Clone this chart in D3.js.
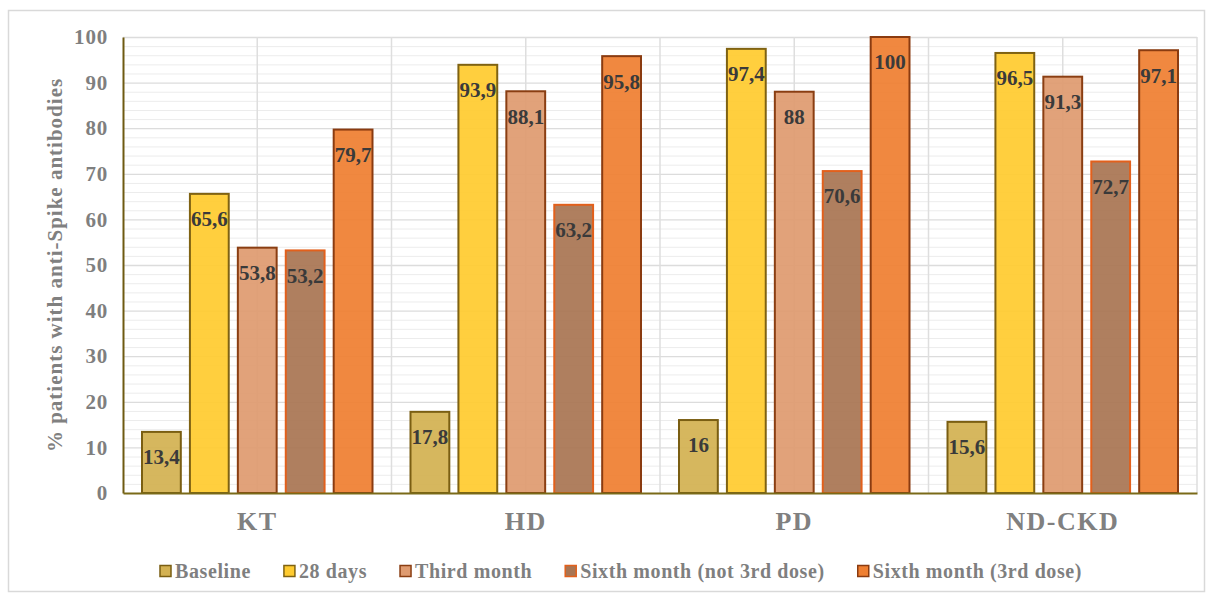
<!DOCTYPE html>
<html>
<head>
<meta charset="utf-8">
<script src="https://cdn.jsdelivr.net/npm/d3@7"></script>
<style>
  html, body { margin: 0; padding: 0; background: #fff; }
  svg { display: block; }
</style>
</head>
<body>
<svg id="chart" width="1210" height="597"></svg>
<script>
// Groups of patients and the share with anti-Spike antibodies at each time point
const categories = ["KT", "HD", "PD", "ND-CKD"];
const seriesNames = ["Baseline", "28 days", "Third month", "Sixth month (not 3rd dose)", "Sixth month (3rd dose)"];
const baseline      = [13.4, 17.8, 16, 15.6];
const days28        = [65.6, 93.9, 97.4, 96.5];
const thirdMonth    = [53.8, 88.1, 88, 91.3];
const sixthNot3rd   = [53.2, 63.2, 70.6, 72.7];
const sixth3rd      = [79.7, 95.8, 100, 97.1];
const yTicks        = [0, 10, 20, 30, 40, 50, 60, 70, 80, 90, 100];

const seriesValues = [baseline, days28, thirdMonth, sixthNot3rd, sixth3rd];
const fills   = ["#D3B152", "#FFCB2F", "#DF9B70", "#A97553", "#EF7F31"];
const strokes = ["#7A5E12", "#7F6212", "#8A3E12", "#E2601C", "#8A3B10"];
const FONT = "Liberation Serif, Times New Roman, serif";

const svg = d3.select("#chart");
const margin = { left: 123, right: 1197, top: 37, bottom: 493 };

// Outer frame
svg.append("rect")
  .attr("x", 8.5).attr("y", 10.5)
  .attr("width", 1196).attr("height", 581)
  .attr("fill", "none").attr("stroke", "#d9d9d9").attr("stroke-width", 1.5);

const x0 = d3.scaleBand().domain(categories).range([margin.left, margin.right]).paddingInner(0).paddingOuter(0);
const x1 = d3.scaleBand().domain(d3.range(seriesNames.length)).range([19, x0.bandwidth() - 19]).paddingInner(0.19).paddingOuter(0);
const y = d3.scaleLinear().domain([0, 100]).range([margin.bottom, margin.top]);

const grid = svg.append("g");
// Minor horizontal grid every 2 units
grid.selectAll("line.minor")
  .data(d3.range(2, 100, 2).filter(v => v % 10 !== 0))
  .join("line")
  .attr("x1", margin.left).attr("x2", margin.right)
  .attr("y1", d => y(d) + 0.5).attr("y2", d => y(d) + 0.5)
  .attr("stroke", "#ececec").attr("stroke-width", 1);
// Major horizontal grid
grid.selectAll("line.major")
  .data(yTicks.filter(v => v > 0))
  .join("line")
  .attr("x1", margin.left).attr("x2", margin.right)
  .attr("y1", d => y(d) + 0.5).attr("y2", d => y(d) + 0.5)
  .attr("stroke", "#dcdcdc").attr("stroke-width", 1.3);
// Vertical grid at category edges and centres
const vlines = [];
categories.forEach(c => { vlines.push(x0(c) + x0.bandwidth() / 2); vlines.push(x0(c) + x0.bandwidth()); });
grid.selectAll("line.v")
  .data(vlines)
  .join("line")
  .attr("x1", d => d).attr("x2", d => d)
  .attr("y1", margin.top).attr("y2", margin.bottom)
  .attr("stroke", "#dedede").attr("stroke-width", 1.5);

// Bars with value labels inside near the top
const groups = svg.append("g").selectAll("g")
  .data(categories)
  .join("g")
  .attr("transform", c => `translate(${x0(c)},0)`);

groups.each(function(c, ci) {
  const g = d3.select(this);
  seriesValues.forEach((vals, si) => {
    const v = vals[ci];
    g.append("rect")
      .attr("x", x1(si)).attr("y", y(v))
      .attr("width", x1.bandwidth()).attr("height", y(0) - y(v))
      .attr("fill", fills[si]).attr("fill-opacity", 0.93)
      .attr("stroke", strokes[si]).attr("stroke-width", 2);
    g.append("text")
      .attr("x", x1(si) + x1.bandwidth() / 2)
      .attr("y", y(v) + 25)
      .attr("dy", "0.35em")
      .attr("text-anchor", "middle")
      .attr("font-family", FONT)
      .attr("font-weight", "bold")
      .attr("font-size", 21)
      .attr("fill", "#3a3a3a")
      .text(String(v).replace(".", ","));
  });
});

// Y axis
const yAxis = svg.append("g")
  .attr("transform", `translate(${margin.left},0)`)
  .call(d3.axisLeft(y).tickValues(yTicks).tickSize(0).tickPadding(15));
yAxis.select(".domain").attr("stroke", "#6e5a12").attr("stroke-width", 2);
yAxis.selectAll("text")
  .attr("font-family", FONT)
  .attr("font-weight", "bold")
  .attr("font-size", 21)
  .attr("letter-spacing", 0.8)
  .attr("fill", "#7f7f7f");

// X axis
const xAxis = svg.append("g")
  .attr("transform", `translate(0,${margin.bottom})`)
  .call(d3.axisBottom(x0).tickSize(0).tickPadding(19));
xAxis.select(".domain").attr("stroke", "#7a6a18").attr("stroke-width", 2);
xAxis.selectAll("text")
  .attr("font-family", FONT)
  .attr("font-weight", "bold")
  .attr("font-size", 26)
  .attr("letter-spacing", 1.5)
  .attr("fill", "#808080");

// Y axis title
svg.append("text")
  .attr("transform", `translate(55,${(margin.top + margin.bottom) / 2}) rotate(-90)`)
  .attr("text-anchor", "middle")
  .attr("dy", "0.35em")
  .attr("font-family", FONT)
  .attr("font-weight", "bold")
  .attr("font-size", 21)
  .attr("letter-spacing", 1)
  .attr("fill", "#808080")
  .text("% patients with anti-Spike antibodies");

// Legend, laid out left to right from measured label widths
const legend = svg.append("g").attr("transform", "translate(0,571)");
let lx = 160;
seriesNames.forEach((name, i) => {
  legend.append("rect")
    .attr("x", lx).attr("y", -5.5)
    .attr("width", 11).attr("height", 11)
    .attr("fill", fills[i])
    .attr("stroke", strokes[i]).attr("stroke-width", 1.5);
  const t = legend.append("text")
    .attr("x", lx + 15).attr("y", 0).attr("dy", "0.35em")
    .attr("font-family", FONT)
    .attr("font-weight", "bold")
    .attr("font-size", 20)
    .attr("letter-spacing", 0.6)
    .attr("fill", "#7f7f7f")
    .text(name);
  lx += 15 + t.node().getComputedTextLength() + 33;
});
</script>
</body>
</html>
